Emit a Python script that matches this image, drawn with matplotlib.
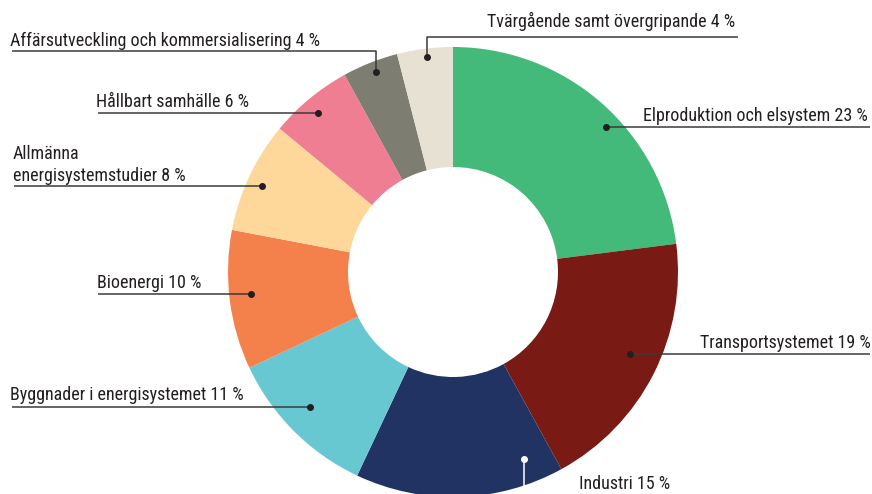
import matplotlib
matplotlib.use('Agg')
import matplotlib.pyplot as plt

# share of projects per area, clockwise from 12 o'clock
labels = ['Elproduktion och elsystem 23 %', 'Transportsystemet 19 %', 'Industri 15 %',
          'Byggnader i energisystemet 11 %', 'Bioenergi 10 %',
          'Allmänna\nenergisystemstudier 8 %', 'Hållbart samhälle 6 %',
          'Affärsutveckling och kommersialisering 4 %', 'Tvärgående samt övergripande 4 %']
shares = [23, 19, 15, 11, 10, 8, 6, 4, 4]
colors = ['#43ba79', '#7a1a14', '#213363', '#67c8d1', '#f4814c',
          '#fdd89a', '#f07e93', '#7e7d72', '#e6e1d2']

W, H = 872, 494
plt.rcParams['font.family'] = ['Roboto Condensed', 'Archivo Narrow', 'DejaVu Sans']

fig = plt.figure(figsize=(W / 100, H / 100), dpi=100)
ax = fig.add_axes([0, 0, 1, 1])

cx, cy, R = 453, H - 272, 225
ax.pie(shares, colors=colors, startangle=90, counterclock=False,
       center=(cx, cy), radius=R, wedgeprops=dict(width=120, linewidth=0))


def py(y):  # picture rows -> axis units
    return H - y


# (text x, text baseline, leader line from underline end to dot), in picture pixels
callouts = [
    (643, 121, [(870, 127), (606, 127)], 'right'),
    (700, 348, [(870, 354), (630, 354)], 'right'),
    (579, 489, [(524, 494), (524, 459)], 'white'),
    (10, 400, [(12, 407), (310, 407)], 'left'),
    (97, 288, [(98, 294), (251, 294)], 'left'),
    (13, 181, [(14, 186), (262, 186)], 'left'),
    (96, 107, [(98, 113), (318, 113)], 'left'),
    (10, 46, [(12, 51), (376, 51), (376, 72)], 'left'),
    (487, 27, [(738, 37), (427, 37), (427, 57)], 'left'),
]

ink = '#231f20'
for lab, (tx, ty, path, kind) in zip(labels, callouts):
    lc = 'white' if kind == 'white' else '#3a3a3a'
    xs = [p[0] for p in path]
    ys = [py(p[1]) for p in path]
    ax.plot(xs, ys, color=lc, lw=1.1, solid_capstyle='butt')
    ax.plot(xs[-1], ys[-1], 'o', color='white' if kind == 'white' else ink, ms=4)
    ax.text(tx, py(ty), lab, fontsize=13, color=ink, ha='left', va='baseline',
            linespacing=1.3)

ax.set_xlim(0, W)
ax.set_ylim(0, H)
ax.set_aspect('equal')
ax.axis('off')
fig.savefig('out.png', dpi=100)
